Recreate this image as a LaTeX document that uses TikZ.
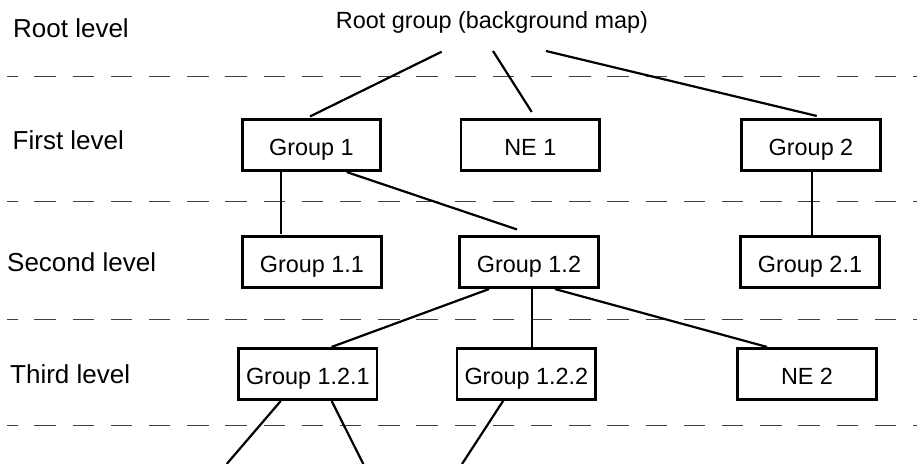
\documentclass[tikz,border=0pt]{standalone}
\usepackage{fontspec}
\setmainfont{Liberation Sans}
\usetikzlibrary{calc}
\begin{document}
\begin{tikzpicture}[x=1pt,y=-1pt,
  boxnode/.style={draw, line width=2.6pt, minimum width=138.5pt, minimum height=51.5pt,
    inner sep=0pt, text height=21pt, text depth=0pt,
    font=\fontsize{23.4}{28}\selectfont},
  levellabel/.style={anchor=base west, inner sep=0pt, font=\fontsize{26}{31}\selectfont},
  conn/.style={line width=2.2pt},
  sepline/.style={black!75, line width=1.2pt, dash pattern=on 21.5pt off 16.7pt, dash phase=10.6pt}]
\useasboundingbox (0,0) rectangle (917,463);
% separators
\draw[sepline] (6.7,76.7) -- (917,76.7);
\draw[sepline] (6.7,201.5) -- (917,201.5);
\draw[sepline] (6.7,319.3) -- (917,319.3);
\draw[sepline] (6.7,425.3) -- (917,425.3);
% level labels
\node[levellabel] (lroot) at (13,37.3) {Root level};
\node[levellabel] (lfirst) at (12.5,149.5) {First level};
\node[levellabel] (lsecond) at (7,271.7) {Second level};
\node[levellabel] (lthird) at (10,383.5) {Third level};
% root
\node[anchor=base, inner sep=0pt, font=\fontsize{23.4}{28}\selectfont] (root) at (492,28.5) {Root group (background map)};
% boxes
\node[boxnode] (g1) at (311.5,145) {Group 1};
\node[boxnode] (ne1) at (530.3,145) {NE 1};
\node[boxnode] (g2) at (811,145) {Group 2};
\node[boxnode] (g11) at (312,262) {Group 1.1};
\node[boxnode] (g12) at (529,262) {Group 1.2};
\node[boxnode] (g21) at (810,262) {Group 2.1};
\node[boxnode] (g121) at (307.8,374) {Group 1.2.1};
\node[boxnode] (g122) at (526.3,374) {Group 1.2.2};
\node[boxnode] (ne2) at (807,374) {NE 2};
% free ends
\coordinate (e1) at (226.7,464);
\coordinate (e2) at (363.3,464);
\coordinate (e3) at (462,464);
% connectors
\draw[conn] ($(root.base)+(-50.3,23.2)$) -- ($(g1.north)+(-1.5,-1.5)$);
\draw[conn] ($(root.base)+(1,22.5)$) -- ($(ne1.north)+(1.4,-6)$);
\draw[conn] ($(root.base)+(54,22.5)$) -- ($(g2.north)+(5.7,-2)$);
\draw[conn] ($(g1.south)+(-30.8,-2)$) -- ($(g11.north)+(-31.3,-1)$);
\draw[conn] ($(g1.south)+(35.2,0)$) -- ($(g12.north)+(-12,-5.5)$);
\draw[conn] ($(g2.south)+(0.7,0)$) -- ($(g21.north)+(1.7,0)$);
\draw[conn] ($(g12.south)+(-40,0)$) -- ($(g121.north)+(23.8,0)$);
\draw[conn] ($(g12.south)+(2.7,0)$) -- ($(g122.north)+(5.4,0)$);
\draw[conn] ($(g12.south)+(26,0)$) -- ($(ne2.north)+(-40,0)$);
\draw[conn] ($(g121.south)+(-27.1,0)$) -- (e1);
\draw[conn] ($(g121.south)+(23.9,0)$) -- (e2);
\draw[conn] ($(g122.south)+(-22.3,-1.5)$) -- (e3);
\end{tikzpicture}
\end{document}
